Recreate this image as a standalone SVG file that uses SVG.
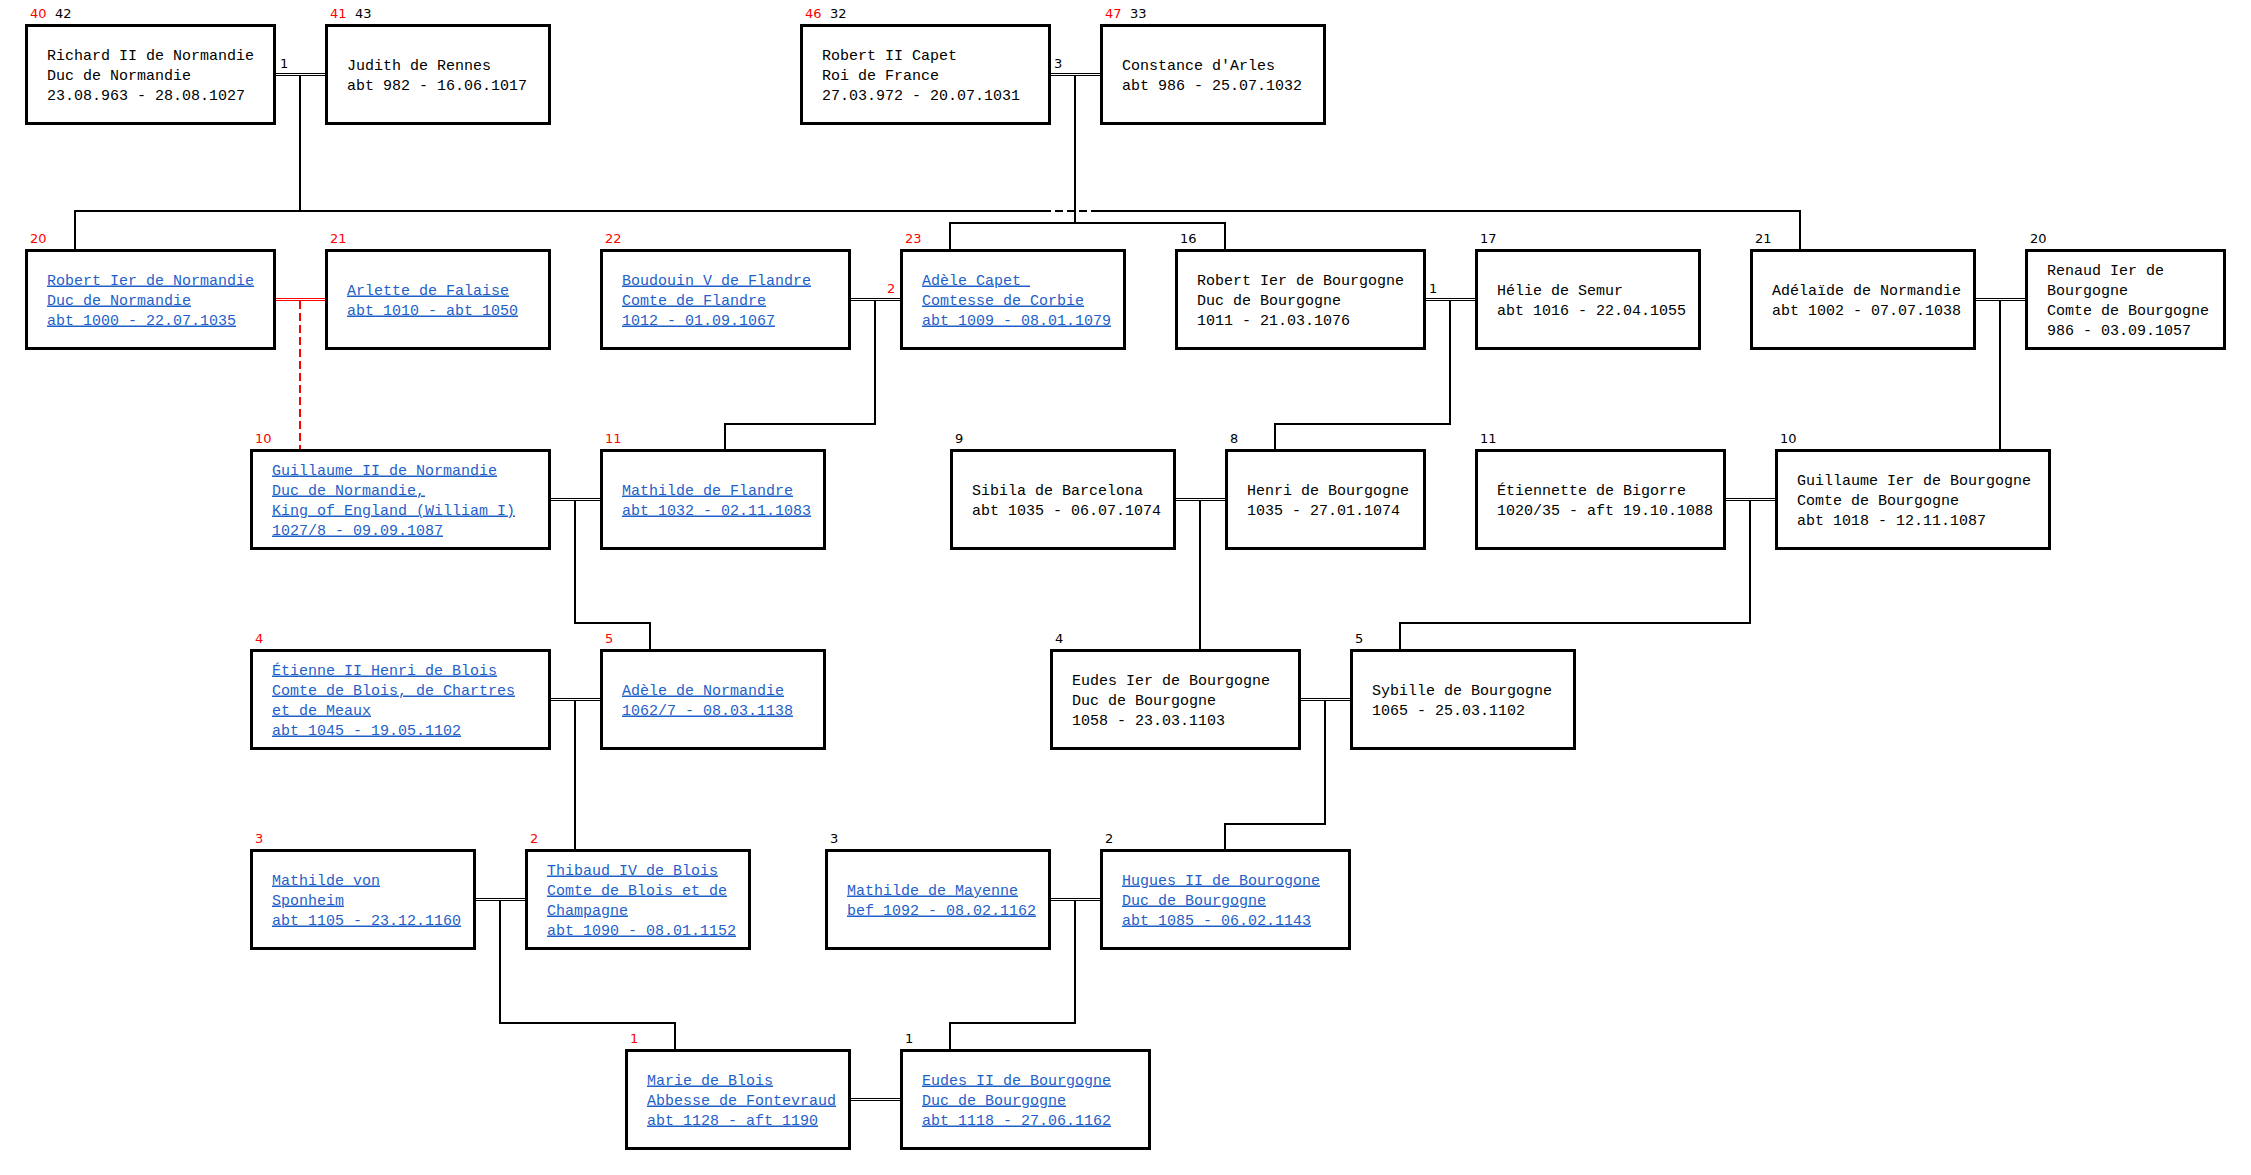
<svg xmlns="http://www.w3.org/2000/svg" width="2251" height="1175" viewBox="0 0 2251 1175">
<style>
.box{fill:#fff;stroke:#000;stroke-width:3}
.t{font-family:"Liberation Mono","Courier New",monospace;font-size:15px;fill:#000}
.l{fill:#1f5fc9;text-decoration:underline}
.n{font-family:"DejaVu Sans",Verdana,sans-serif;font-size:13px;fill:#000}
.r{fill:#f00}
.c{stroke:#000;stroke-width:2;fill:none}
.m{stroke:#000;stroke-width:1;fill:none}
.rm{stroke:#f00;stroke-width:1;fill:none}
.dash{stroke:#000;stroke-width:2;stroke-dasharray:8 4;fill:none}
.rd{stroke:#f00;stroke-width:2;stroke-dasharray:8 4;fill:none}
</style>
<rect width="2251" height="1175" fill="#fff"/>
<g id="connectors">
<path class="m" d="M276 73.5H325M276 75.5H325M1051 73.5H1100M1051 75.5H1100"/>
<path class="rm" d="M276 298.5H325M276 300.5H325"/>
<path class="m" d="M851 298.5H900M851 300.5H900M1426 298.5H1475M1426 300.5H1475M1976 298.5H2025M1976 300.5H2025"/>
<path class="m" d="M551 498.5H600M551 500.5H600M1176 498.5H1225M1176 500.5H1225M1726 498.5H1775M1726 500.5H1775"/>
<path class="m" d="M551 698.5H600M551 700.5H600M1301 698.5H1350M1301 700.5H1350"/>
<path class="m" d="M476 898.5H525M476 900.5H525M1051 898.5H1100M1051 900.5H1100"/>
<path class="m" d="M851 1098.5H900M851 1100.5H900"/>
<path class="c" d="M300 76V211M75 249V211H1043M1093 211H1800V249"/>
<path class="dash" d="M1043 211H1093"/>
<path class="c" d="M1075 76V223M950 249V223H1225V249"/>
<path class="c" d="M875 301V424H725V449"/>
<path class="c" d="M1450 301V424H1275V449"/>
<path class="c" d="M2000 301V449"/>
<path class="rd" d="M300 301V449"/>
<path class="c" d="M575 501V623H650V649"/>
<path class="c" d="M1200 501V649"/>
<path class="c" d="M1750 501V623H1400V649"/>
<path class="c" d="M575 701V849"/>
<path class="c" d="M1325 701V824H1225V849"/>
<path class="c" d="M500 901V1023H675V1049"/>
<path class="c" d="M1075 901V1023H950V1049"/>
<text class="n" x="280" y="67.5">1</text>
<text class="n" x="1054" y="67.5">3</text>
<text class="n r" x="887" y="292.5">2</text>
<text class="n" x="1429" y="292.5">1</text>
</g>
<g id="richard">
<rect class="box" x="26.5" y="25.5" width="248" height="98"/>
<text class="n r" x="30" y="17.5">40</text><text class="n" x="55" y="17.5">42</text>
<text class="t" x="47" y="59.5">Richard II de Normandie</text>
<text class="t" x="47" y="79.5">Duc de Normandie</text>
<text class="t" x="47" y="99.5">23.08.963 - 28.08.1027</text>
</g>
<g id="judith">
<rect class="box" x="326.5" y="25.5" width="223" height="98"/>
<text class="n r" x="330" y="17.5">41</text><text class="n" x="355" y="17.5">43</text>
<text class="t" x="347" y="69.5">Judith de Rennes</text>
<text class="t" x="347" y="89.5">abt 982 - 16.06.1017</text>
</g>
<g id="robert2">
<rect class="box" x="801.5" y="25.5" width="248" height="98"/>
<text class="n r" x="805" y="17.5">46</text><text class="n" x="830" y="17.5">32</text>
<text class="t" x="822" y="59.5">Robert II Capet</text>
<text class="t" x="822" y="79.5">Roi de France</text>
<text class="t" x="822" y="99.5">27.03.972 - 20.07.1031</text>
</g>
<g id="constance">
<rect class="box" x="1101.5" y="25.5" width="223" height="98"/>
<text class="n r" x="1105" y="17.5">47</text><text class="n" x="1130" y="17.5">33</text>
<text class="t" x="1122" y="69.5">Constance d'Arles</text>
<text class="t" x="1122" y="89.5">abt 986 - 25.07.1032</text>
</g>
<g id="robert1norm">
<rect class="box" x="26.5" y="250.5" width="248" height="98"/>
<text class="n r" x="30" y="242.5">20</text>
<text class="t l" x="47" y="284.5">Robert Ier de Normandie</text>
<text class="t l" x="47" y="304.5">Duc de Normandie</text>
<text class="t l" x="47" y="324.5">abt 1000 - 22.07.1035</text>
</g>
<g id="arlette">
<rect class="box" x="326.5" y="250.5" width="223" height="98"/>
<text class="n r" x="330" y="242.5">21</text>
<text class="t l" x="347" y="294.5">Arlette de Falaise</text>
<text class="t l" x="347" y="314.5">abt 1010 - abt 1050</text>
</g>
<g id="boudouin">
<rect class="box" x="601.5" y="250.5" width="248" height="98"/>
<text class="n r" x="605" y="242.5">22</text>
<text class="t l" x="622" y="284.5">Boudouin V de Flandre</text>
<text class="t l" x="622" y="304.5">Comte de Flandre</text>
<text class="t l" x="622" y="324.5">1012 - 01.09.1067</text>
</g>
<g id="adelecapet">
<rect class="box" x="901.5" y="250.5" width="223" height="98"/>
<text class="n r" x="905" y="242.5">23</text>
<text class="t l" x="922" y="284.5" xml:space="preserve">Adèle Capet </text>
<text class="t l" x="922" y="304.5">Comtesse de Corbie</text>
<text class="t l" x="922" y="324.5">abt 1009 - 08.01.1079</text>
</g>
<g id="robert1bourg">
<rect class="box" x="1176.5" y="250.5" width="248" height="98"/>
<text class="n" x="1180" y="242.5">16</text>
<text class="t" x="1197" y="284.5">Robert Ier de Bourgogne</text>
<text class="t" x="1197" y="304.5">Duc de Bourgogne</text>
<text class="t" x="1197" y="324.5">1011 - 21.03.1076</text>
</g>
<g id="helie">
<rect class="box" x="1476.5" y="250.5" width="223" height="98"/>
<text class="n" x="1480" y="242.5">17</text>
<text class="t" x="1497" y="294.5">Hélie de Semur</text>
<text class="t" x="1497" y="314.5">abt 1016 - 22.04.1055</text>
</g>
<g id="adelaide">
<rect class="box" x="1751.5" y="250.5" width="223" height="98"/>
<text class="n" x="1755" y="242.5">21</text>
<text class="t" x="1772" y="294.5">Adélaïde de Normandie</text>
<text class="t" x="1772" y="314.5">abt 1002 - 07.07.1038</text>
</g>
<g id="renaud">
<rect class="box" x="2026.5" y="250.5" width="198" height="98"/>
<text class="n" x="2030" y="242.5">20</text>
<text class="t" x="2047" y="274.5">Renaud Ier de</text>
<text class="t" x="2047" y="294.5">Bourgogne</text>
<text class="t" x="2047" y="314.5">Comte de Bourgogne</text>
<text class="t" x="2047" y="334.5">986 - 03.09.1057</text>
</g>
<g id="guillaume2">
<rect class="box" x="251.5" y="450.5" width="298" height="98"/>
<text class="n r" x="255" y="442.5">10</text>
<text class="t l" x="272" y="474.5">Guillaume II de Normandie</text>
<text class="t l" x="272" y="494.5">Duc de Normandie,</text>
<text class="t l" x="272" y="514.5">King of England (William I)</text>
<text class="t l" x="272" y="534.5">1027/8 - 09.09.1087</text>
</g>
<g id="mathildeflandre">
<rect class="box" x="601.5" y="450.5" width="223" height="98"/>
<text class="n r" x="605" y="442.5">11</text>
<text class="t l" x="622" y="494.5">Mathilde de Flandre</text>
<text class="t l" x="622" y="514.5">abt 1032 - 02.11.1083</text>
</g>
<g id="sibila">
<rect class="box" x="951.5" y="450.5" width="223" height="98"/>
<text class="n" x="955" y="442.5">9</text>
<text class="t" x="972" y="494.5">Sibila de Barcelona</text>
<text class="t" x="972" y="514.5">abt 1035 - 06.07.1074</text>
</g>
<g id="henri">
<rect class="box" x="1226.5" y="450.5" width="198" height="98"/>
<text class="n" x="1230" y="442.5">8</text>
<text class="t" x="1247" y="494.5">Henri de Bourgogne</text>
<text class="t" x="1247" y="514.5">1035 - 27.01.1074</text>
</g>
<g id="etiennette">
<rect class="box" x="1476.5" y="450.5" width="248" height="98"/>
<text class="n" x="1480" y="442.5">11</text>
<text class="t" x="1497" y="494.5">Étiennette de Bigorre</text>
<text class="t" x="1497" y="514.5">1020/35 - aft 19.10.1088</text>
</g>
<g id="guillaume1">
<rect class="box" x="1776.5" y="450.5" width="273" height="98"/>
<text class="n" x="1780" y="442.5">10</text>
<text class="t" x="1797" y="484.5">Guillaume Ier de Bourgogne</text>
<text class="t" x="1797" y="504.5">Comte de Bourgogne</text>
<text class="t" x="1797" y="524.5">abt 1018 - 12.11.1087</text>
</g>
<g id="etienne2">
<rect class="box" x="251.5" y="650.5" width="298" height="98"/>
<text class="n r" x="255" y="642.5">4</text>
<text class="t l" x="272" y="674.5">Étienne II Henri de Blois</text>
<text class="t l" x="272" y="694.5">Comte de Blois, de Chartres</text>
<text class="t l" x="272" y="714.5">et de Meaux</text>
<text class="t l" x="272" y="734.5">abt 1045 - 19.05.1102</text>
</g>
<g id="adelenorm">
<rect class="box" x="601.5" y="650.5" width="223" height="98"/>
<text class="n r" x="605" y="642.5">5</text>
<text class="t l" x="622" y="694.5">Adèle de Normandie</text>
<text class="t l" x="622" y="714.5">1062/7 - 08.03.1138</text>
</g>
<g id="eudes1">
<rect class="box" x="1051.5" y="650.5" width="248" height="98"/>
<text class="n" x="1055" y="642.5">4</text>
<text class="t" x="1072" y="684.5">Eudes Ier de Bourgogne</text>
<text class="t" x="1072" y="704.5">Duc de Bourgogne</text>
<text class="t" x="1072" y="724.5">1058 - 23.03.1103</text>
</g>
<g id="sybille">
<rect class="box" x="1351.5" y="650.5" width="223" height="98"/>
<text class="n" x="1355" y="642.5">5</text>
<text class="t" x="1372" y="694.5">Sybille de Bourgogne</text>
<text class="t" x="1372" y="714.5">1065 - 25.03.1102</text>
</g>
<g id="mathildevon">
<rect class="box" x="251.5" y="850.5" width="223" height="98"/>
<text class="n r" x="255" y="842.5">3</text>
<text class="t l" x="272" y="884.5">Mathilde von</text>
<text class="t l" x="272" y="904.5">Sponheim</text>
<text class="t l" x="272" y="924.5">abt 1105 - 23.12.1160</text>
</g>
<g id="thibaud">
<rect class="box" x="526.5" y="850.5" width="223" height="98"/>
<text class="n r" x="530" y="842.5">2</text>
<text class="t l" x="547" y="874.5">Thibaud IV de Blois</text>
<text class="t l" x="547" y="894.5">Comte de Blois et de</text>
<text class="t l" x="547" y="914.5">Champagne</text>
<text class="t l" x="547" y="934.5">abt 1090 - 08.01.1152</text>
</g>
<g id="mathildemayenne">
<rect class="box" x="826.5" y="850.5" width="223" height="98"/>
<text class="n" x="830" y="842.5">3</text>
<text class="t l" x="847" y="894.5">Mathilde de Mayenne</text>
<text class="t l" x="847" y="914.5">bef 1092 - 08.02.1162</text>
</g>
<g id="hugues">
<rect class="box" x="1101.5" y="850.5" width="248" height="98"/>
<text class="n" x="1105" y="842.5">2</text>
<text class="t l" x="1122" y="884.5">Hugues II de Bourogone</text>
<text class="t l" x="1122" y="904.5">Duc de Bourgogne</text>
<text class="t l" x="1122" y="924.5">abt 1085 - 06.02.1143</text>
</g>
<g id="marie">
<rect class="box" x="626.5" y="1050.5" width="223" height="98"/>
<text class="n r" x="630" y="1042.5">1</text>
<text class="t l" x="647" y="1084.5">Marie de Blois</text>
<text class="t l" x="647" y="1104.5">Abbesse de Fontevraud</text>
<text class="t l" x="647" y="1124.5">abt 1128 - aft 1190</text>
</g>
<g id="eudes2">
<rect class="box" x="901.5" y="1050.5" width="248" height="98"/>
<text class="n" x="905" y="1042.5">1</text>
<text class="t l" x="922" y="1084.5">Eudes II de Bourgogne</text>
<text class="t l" x="922" y="1104.5">Duc de Bourgogne</text>
<text class="t l" x="922" y="1124.5">abt 1118 - 27.06.1162</text>
</g>
</svg>
